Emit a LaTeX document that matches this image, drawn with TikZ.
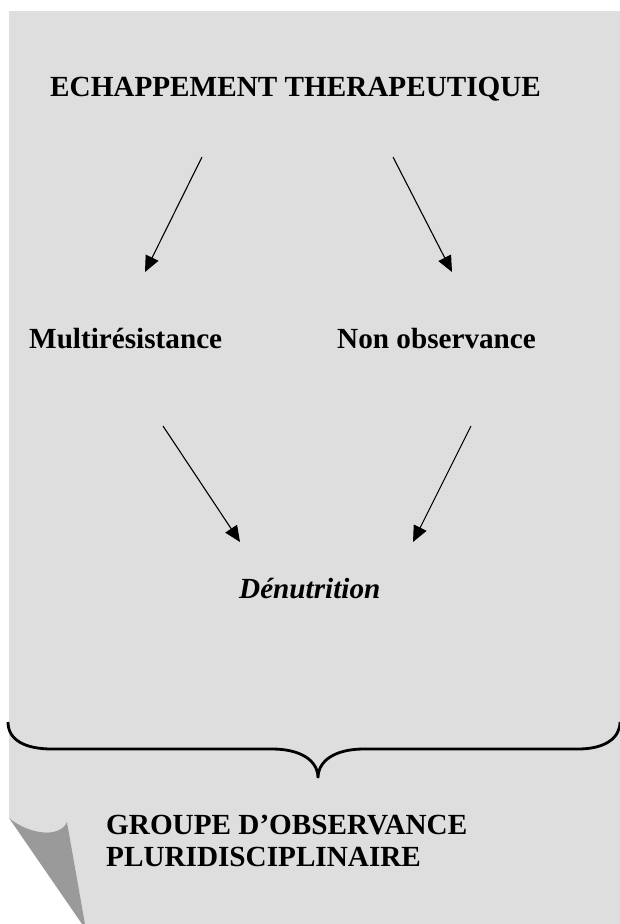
\documentclass[tikz,border=0pt]{standalone}
\usepackage{fontspec}
\setmainfont{Liberation Serif}
\usetikzlibrary{arrows.meta}
\definecolor{paper}{HTML}{DEDEDE}
\definecolor{fold}{HTML}{9A9A9A}
\tikzset{
  lbl/.style={anchor=base west, inner sep=0pt, font=\fontsize{29.2}{32}\selectfont\bfseries},
  arr/.style={line width=1.1pt, -{Triangle[length=16pt,width=14pt]}},
  brace/.style={line width=2.8pt}
}
\begin{document}
\begin{tikzpicture}[x=1pt,y=-1pt]
\useasboundingbox (0,0) rectangle (620,924);
% paper
\fill[paper] (9,11) -- (620,11) -- (620,924) -- (85,924) -- (67,822)
  .. controls (60,838) and (30,835) .. (9,818) -- cycle;
\fill[fold] (9,818) .. controls (30,835) and (60,838) .. (67,822)
  -- (85,924) -- (82,924) -- cycle;
% texts
\node[lbl] (title) at (50,96) {ECHAPPEMENT THERAPEUTIQUE};
\node[lbl] (multi) at (29,348) {Multirésistance};
\node[lbl] (nonobs) at (337,348) {Non observance};
\node[lbl, font=\fontsize{29.2}{32}\selectfont\bfseries\itshape] (denut) at (239,598) {Dénutrition};
\node[lbl, align=left, anchor=north west] (groupe) at (106,815) {GROUPE D’OBSERVANCE\\PLURIDISCIPLINAIRE};
% arrow ends
\coordinate (a1s) at (202,157); \coordinate (a1e) at (145,272);
\coordinate (a2s) at (393,157); \coordinate (a2e) at (452,272);
\coordinate (a3s) at (163,426); \coordinate (a3e) at (240,542);
\coordinate (a4s) at (471,426); \coordinate (a4e) at (413,542);
\draw[arr] (a1s) -- (a1e);
\draw[arr] (a2s) -- (a2e);
\draw[arr] (a3s) -- (a3e);
\draw[arr] (a4s) -- (a4e);
% brace
\coordinate (bl) at (8,722); \coordinate (tip) at (318,778); \coordinate (br) at (620,722);
\draw[brace] (bl) .. controls (8,740) and (25,749) .. (52,749) -- (272,749)
  .. controls (300,749) and (318,760) .. (tip)
  .. controls (318,760) and (336,749) .. (364,749) -- (578,749)
  .. controls (605,749) and (620,738) .. (br);
\end{tikzpicture}
\end{document}
